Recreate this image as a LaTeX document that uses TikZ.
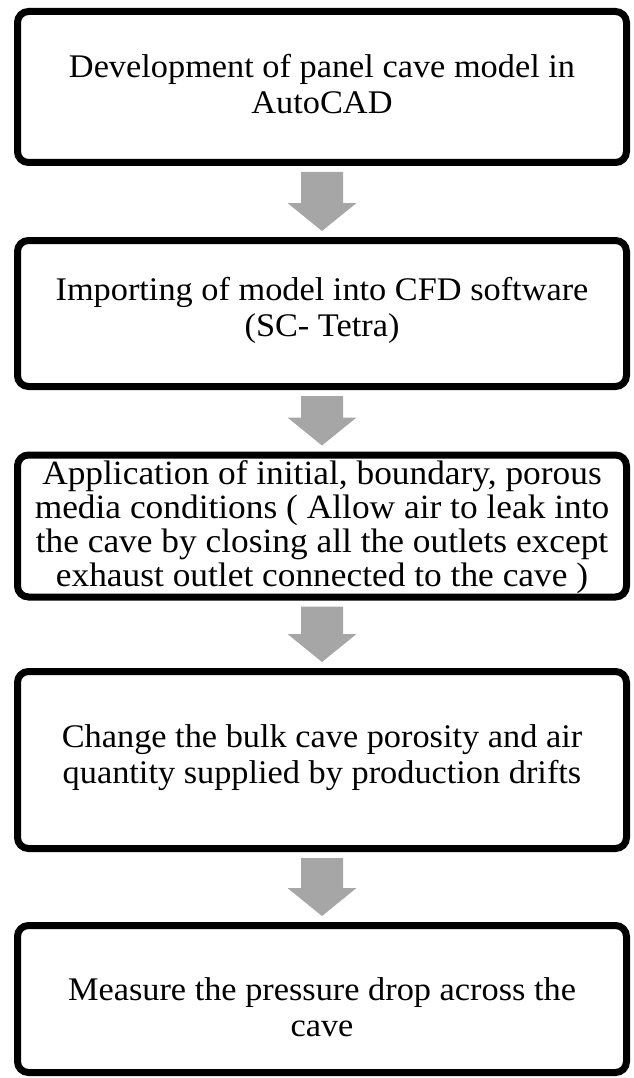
\documentclass[tikz,border=0pt]{standalone}
\usepackage{fontspec}
\setmainfont{Liberation Serif}[FakeStretch=1.04]
\usetikzlibrary{calc}

\tikzset{
  stagebox/.style={draw, line width=7pt, rounded corners=11pt, minimum width=609pt, inner sep=0pt},
  stagetext/.style={align=center, font=\fontsize{33}{36}\selectfont, inner sep=0pt},
  flowarrow/.style={fill=black!35}
}

\begin{document}
\begin{tikzpicture}[x=1pt,y=-1pt]
\useasboundingbox (0,0) rectangle (633,1078);

% stages
\node[stagebox, minimum height=151pt] (b1) at (322,87) {};
\node[stagebox, minimum height=146pt] (b2) at (322,313.5) {};
\node[stagebox, minimum height=142pt] (b3) at (322,526) {};
\node[stagebox, minimum height=177pt] (b4) at (322,760) {};
\node[stagebox, minimum height=147pt] (b5) at (322,999) {};

\node[stagetext] (t1) at ($(b1)+(0,-3)$) {Development of panel cave model in\\AutoCAD};
\node[stagetext] (t2) at ($(b2)+(0,-3)$) {Importing of model into CFD software\\(SC- Tetra)};
\node[stagetext, font=\fontsize{34}{34}\selectfont] (t3) at ($(b3)+(0,1)$) {Application of initial, boundary, porous\\media conditions ( Allow air to leak into\\the cave by closing all the outlets except\\exhaust outlet connected to the cave )};
\node[stagetext] (t4) at ($(b4)+(0,-2)$) {Change the bulk cave porosity and air\\quantity supplied by production drifts};
\node[stagetext] (t5) at ($(b5)+(0,8)$) {Measure the pressure drop across the\\cave};

% arrows
\foreach \a/\b in {b1/b2,b2/b3,b3/b4,b4/b5}{
  \fill[flowarrow] ($(\a.south)+(-21,6)$) -- ($(\a.south)+(21,6)$) -- ($(\b.north)+(21,-34)$)
    -- ($(\b.north)+(34.5,-34)$) -- ($(\b.north)+(0,-6)$) -- ($(\b.north)+(-34.5,-34)$)
    -- ($(\b.north)+(-21,-34)$) -- cycle;
}
\end{tikzpicture}
\end{document}
